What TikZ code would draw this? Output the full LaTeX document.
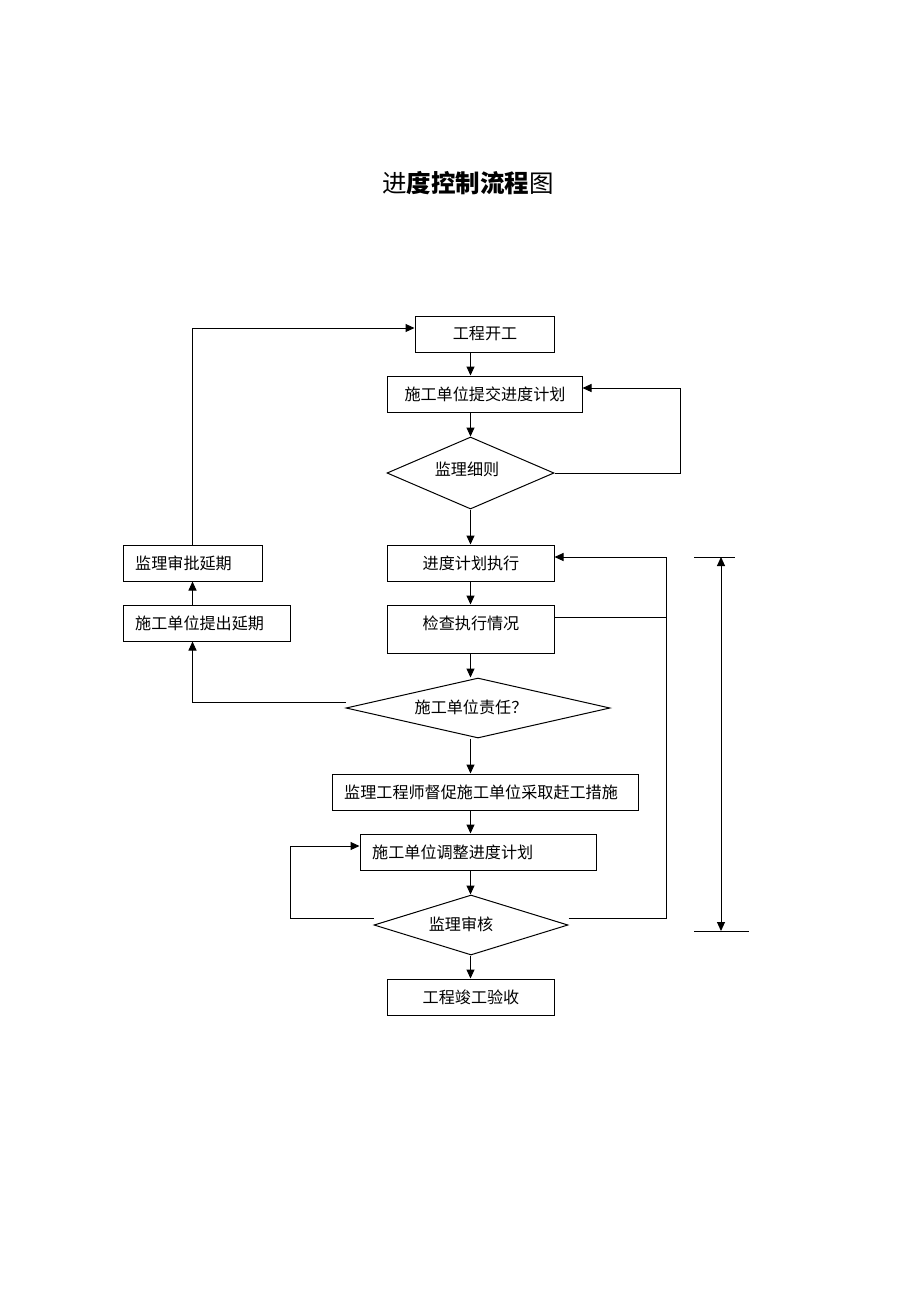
\documentclass[tikz,border=0pt]{standalone}
\usepackage{fontspec}
\newfontfamily\cjk{Noto Sans CJK SC}
\usetikzlibrary{arrows.meta,shapes.geometric}
\begin{document}
\begin{tikzpicture}[x=1pt,y=-1pt,
  every node/.style={font=\cjk\fontsize{16.1}{18}\selectfont, inner sep=0pt},
  box/.style={draw, line width=1pt, rectangle},
  dia/.style={draw, line width=1pt, diamond, shape aspect=4},
  lbl/.style={},
  lbll/.style={anchor=west},
  con/.style={line width=1pt},
  arr/.style={line width=1pt, -{Triangle[length=9pt,width=8pt]}},
  darr/.style={line width=1pt, {Triangle[length=9pt,width=8pt]}-{Triangle[length=9pt,width=8pt]}}]
\useasboundingbox (0,0) rectangle (920,1302);

% title
\node (title) at (468,183) {\fontsize{24.5}{28}\selectfont 进\textbf{度控制流程}图};

% shapes
\node[box, minimum width=139, minimum height=36] (start) at (484.5,334) {};
\node[box, minimum width=195, minimum height=36] (submit) at (484.5,394) {};
\node[dia, minimum width=167, minimum height=72] (d1) at (470.5,473) {};
\node[box, minimum width=167, minimum height=36] (exec) at (470.5,563) {};
\node[box, minimum width=167, minimum height=48] (check) at (470.5,629) {};
\node[dia, minimum width=264, minimum height=60] (d2) at (478,708) {};
\node[box, minimum width=306, minimum height=36] (urge) at (485,792) {};
\node[box, minimum width=236, minimum height=36] (adjust) at (478,852) {};
\node[dia, minimum width=194, minimum height=60] (d3) at (471,925) {};
\node[box, minimum width=167, minimum height=36] (finish) at (470.5,997) {};
\node[box, minimum width=139, minimum height=36] (approve) at (192.5,563) {};
\node[box, minimum width=167, minimum height=36] (apply) at (206.5,623) {};

% texts
\node[lbl] (tstart) at (485,334) {工程开工};
\node[lbl] (tsubmit) at (485,394) {施工单位提交进度计划};
\node[lbl] (td1) at (467,469) {监理细则};
\node[lbl] (texec) at (471,563) {进度计划执行};
\node[lbl] (tcheck) at (471,623) {检查执行情况};
\node[lbl] (td2) at (471,707) {施工单位责任？};
\node[lbll] (turge) at (344,792) {监理工程师督促施工单位采取赶工措施};
\node[lbll] (tadjust) at (372,852) {施工单位调整进度计划};
\node[lbl] (td3) at (461,924) {监理审核};
\node[lbl] (tfinish) at (471,997) {工程竣工验收};
\node[lbll] (tapprove) at (135,563) {监理审批延期};
\node[lbll] (tapply) at (135,623) {施工单位提出延期};

% main column
\draw[arr] (start.south -| d1) -- (submit.north -| d1);
\draw[arr] (submit.south -| d1) -- (d1.north);
\draw[arr] (d1.south) -- (exec.north);
\draw[arr] (exec.south) -- (check.north);
\draw[arr] (check.south) -- (d2.north -| d1);
\draw[arr] (d2.south -| d1) -- (urge.north -| d1);
\draw[arr] (urge.south -| d1) -- (adjust.north -| d1);
\draw[arr] (adjust.south -| d1) -- (d3.north -| d1);
\draw[arr] (d3.south -| d1) -- (finish.north);

% loop from d1 back to submit
\coordinate (r1) at (680,388);
\draw[arr] (d1.east) -| (r1) -- (r1 -| submit.east);

% bus on the right
\coordinate (busT) at (666,557);
\coordinate (busB) at (666,918);
\draw[arr] ([yshift=7pt]d3.east) -- (busB) -- (busT) -- ([yshift=6pt]exec.east);
\draw[con] ([yshift=12pt]check.east) -- ([yshift=12pt]check.east -| busT);

% left branch
\draw[arr] ([yshift=6pt]d2.west) -| (apply.south -| approve.south);
\draw[arr] (apply.north -| approve.north) -- (approve.south);
\draw[arr] (approve.north) |- ([yshift=6pt]start.west);

% loop from d3 back to adjust
\coordinate (l1) at (290,918);
\draw[arr] ([yshift=7pt]d3.west) -- (l1) |- ([yshift=6pt]adjust.west);

% span marker on the right
\coordinate (m1) at (694,557);
\coordinate (m2) at (735,557);
\coordinate (m3) at (694,931);
\coordinate (m4) at (749,931);
\coordinate (mt) at (721,557);
\coordinate (mb) at (721,931);
\draw[con] (m1) -- (m2);
\draw[con] (m3) -- (m4);
\draw[darr] (mt) -- (mb);
\end{tikzpicture}
\end{document}
